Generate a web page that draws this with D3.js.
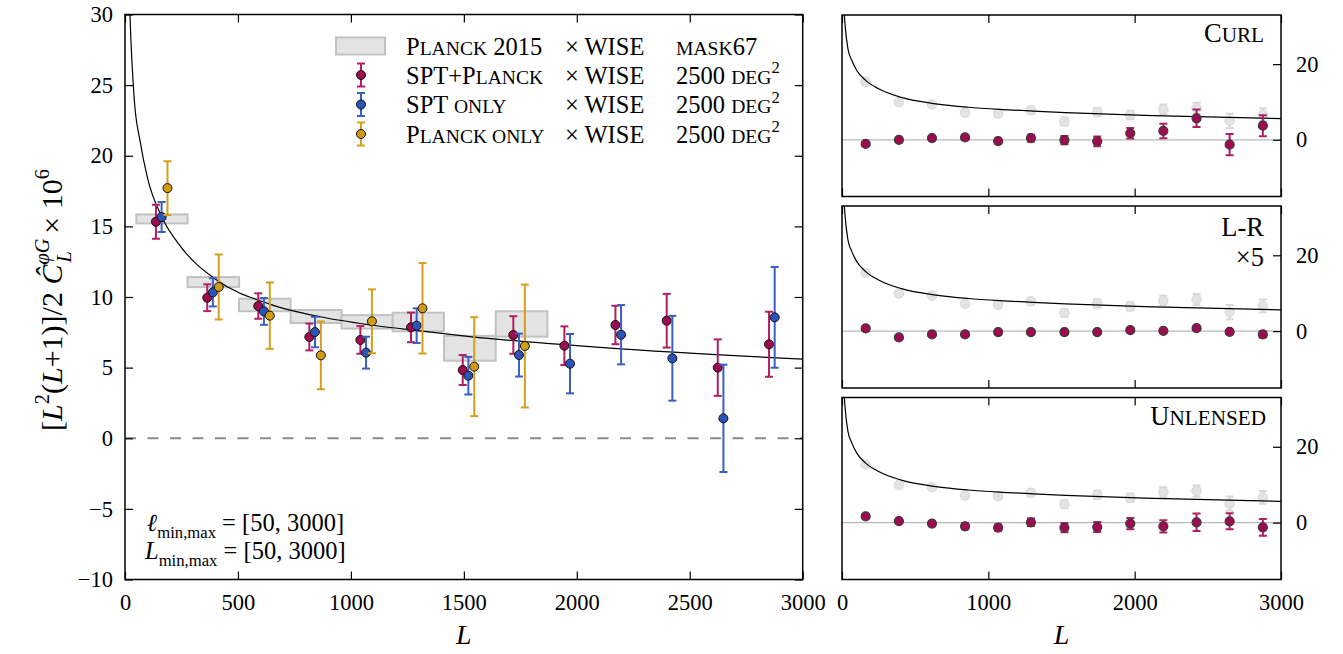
<!DOCTYPE html>
<html><head><meta charset="utf-8">
<script src="https://cdn.jsdelivr.net/npm/d3@7"></script>
<style>
body{margin:0;background:#fff}
svg{display:block}
text{font-family:"Liberation Serif","DejaVu Serif",serif;fill:#000}
</style>
</head><body>
<svg id="c" width="1343" height="654"></svg>
<script>
// ---------------- data ----------------
const binL = [162, 389, 615, 841, 1067, 1291, 1520, 1744, 1970, 2196, 2423, 2649, 2876];
const sptPlanckV = [15.33, 9.95, 9.36, 7.17, 6.96, 7.85, 4.83, 7.31, 6.55, 8.02, 8.32, 5.0, 6.65];
const sptPlanckE = [1.2, 0.95, 0.9, 0.95, 0.98, 1.05, 1.06, 1.33, 1.37, 1.36, 1.9, 2.0, 2.3];
const sptOnlyV = [15.66, 10.33, 8.98, 7.52, 6.06, 7.97, 4.43, 5.89, 5.28, 7.33, 5.66, 1.41, 8.56];
const sptOnlyE = [1.06, 1.0, 0.95, 1.08, 1.13, 1.23, 1.33, 1.52, 2.1, 2.1, 3.0, 3.8, 3.57];
const planckOnlyV = [17.71, 10.71, 8.68, 5.87, 8.28, 9.2, 5.07, 6.53];
const planckOnlyE = [1.9, 2.3, 2.35, 2.4, 2.26, 3.2, 3.5, 4.35];
const planck2015Edges = [50, 277, 505, 733, 959, 1185, 1412, 1641, 1870];
const planck2015Lo = [15.21, 10.7, 8.99, 8.16, 7.76, 7.57, 5.49, 7.19];
const planck2015Hi = [15.85, 11.41, 9.88, 9.08, 8.72, 8.89, 7.25, 8.99];
const theoryL = [10, 15, 22, 41, 66, 100, 162, 250, 406, 641, 863, 1099, 1306, 1527, 2132, 3000];
const theoryV = [40, 34, 30, 24, 21.1, 18.4, 15.7, 13.5, 11.2, 9.5, 8.6, 8.0, 7.6, 7.2, 6.4, 5.6];
const refGrayE = [0.5, 0.6, 0.6, 0.8, 0.8, 0.9, 1.0, 1.1, 1.1, 1.3, 1.5, 1.9, 1.7];
const curlV = [-1.1, 0, 0.44, 0.62, -0.34, 0.44, -0.08, -0.41, 1.73, 2.33, 5.68, -1.29, 3.72];
const curlE = [0.4, 0.5, 0.5, 0.6, 0.6, 0.9, 1.1, 1.3, 1.4, 1.9, 2.3, 2.8, 2.8];
const lrV = [0.7, -1.66, -0.87, -0.87, -0.26, -0.26, -0.26, -0.26, 0.26, 0.08, 0.79, -0.18, -0.87];
const lrE = [0.4, 0.4, 0.4, 0.4, 0.4, 0.4, 0.4, 0.4, 0.4, 0.4, 0.4, 0.5, 0.8];
const unlensedV = [1.67, 0.42, -0.26, -0.98, -1.32, 0.08, -1.32, -1.16, -0.26, -0.98, 0.08, 0.34, -1.24];
const unlensedE = [0.5, 0.5, 0.6, 0.8, 0.8, 1.0, 1.2, 1.3, 1.5, 1.6, 2.3, 2.1, 2.2];
const leftXTicks = [0, 500, 1000, 1500, 2000, 2500, 3000];
const leftYTicks = [-10, -5, 0, 5, 10, 15, 20, 25, 30];
const rightXTicks = [0, 1000, 2000, 3000];
const rightYTicks = [0, 20];

// ---------------- styles ----------------
const COL = {crimson: "#9e0b50", crimsonBar: "#b01f62", blue: "#2c53b8", blueBar: "#3a5fc0", gold: "#d19a14", goldBar: "#d49f1c"};
const FS = 22.5;     // tick labels
const LFS = 24.5;    // legend / annotations
const TFS = 26.5;    // panel titles
const svg = d3.select("#c");

// ---------------- left panel ----------------
const L = {x0: 125, x1: 802.7, y0: 14.5, y1: 579.5};
const xL = d3.scaleLinear().domain([0, 3000]).range([L.x0, L.x1]);
const yL = d3.scaleLinear().domain([-10, 30]).range([L.y1, L.y0]);

svg.append("clipPath").attr("id", "clipL").append("rect")
  .attr("x", L.x0).attr("y", L.y0).attr("width", L.x1 - L.x0).attr("height", L.y1 - L.y0);
const gL = svg.append("g").attr("clip-path", "url(#clipL)");

gL.selectAll("rect.box").data(planck2015Lo).join("rect").attr("class", "box")
  .attr("x", (d, i) => xL(planck2015Edges[i]))
  .attr("width", (d, i) => xL(planck2015Edges[i + 1]) - xL(planck2015Edges[i]))
  .attr("y", (d, i) => yL(planck2015Hi[i]))
  .attr("height", (d, i) => yL(d) - yL(planck2015Hi[i]))
  .attr("fill", "#e3e3e3").attr("stroke", "#c2c2c2").attr("stroke-width", 2);

gL.append("line").attr("x1", xL(0)).attr("x2", xL(3000)).attr("y1", yL(0)).attr("y2", yL(0))
  .attr("stroke", "#8a8a8a").attr("stroke-width", 2).attr("stroke-dasharray", "11,11.5");

const theory = theoryL.map((l, i) => [l, theoryV[i]]);
const lineL = d3.line().x(d => xL(d[0])).y(d => yL(d[1])).curve(d3.curveMonotoneX);
gL.append("path").attr("d", lineL(theory)).attr("fill", "none").attr("stroke", "#000").attr("stroke-width", 1.2);

function errSeries(g, xs, ys, es, xScale, yScale, opts) {
  const data = ys.map((v, i) => ({x: xs[i], v, e: es[i]}));
  const cap = opts.cap;
  const eg = g.append("g");
  eg.selectAll("line.v").data(data).join("line")
    .attr("x1", d => xScale(d.x)).attr("x2", d => xScale(d.x))
    .attr("y1", d => yScale(d.v - d.e)).attr("y2", d => yScale(d.v + d.e))
    .attr("stroke", opts.bar).attr("stroke-width", opts.bw);
  ["lo", "hi"].forEach(k => {
    eg.selectAll("line." + k).data(data).join("line")
      .attr("x1", d => xScale(d.x) - cap).attr("x2", d => xScale(d.x) + cap)
      .attr("y1", d => yScale(k === "lo" ? d.v - d.e : d.v + d.e))
      .attr("y2", d => yScale(k === "lo" ? d.v - d.e : d.v + d.e))
      .attr("stroke", opts.bar).attr("stroke-width", opts.bw);
  });
  eg.selectAll("circle").data(data).join("circle")
    .attr("cx", d => xScale(d.x)).attr("cy", d => yScale(d.v)).attr("r", opts.r)
    .attr("fill", opts.fill).attr("stroke", opts.stroke).attr("stroke-width", opts.sw);
}
const off = 25;
errSeries(gL, binL.map(l => l - off), sptPlanckV, sptPlanckE, xL, yL,
  {bar: COL.crimsonBar, fill: COL.crimson, stroke: "#111", sw: 1, r: 4.5, bw: 2, cap: 4});
errSeries(gL, binL, sptOnlyV, sptOnlyE, xL, yL,
  {bar: COL.blueBar, fill: COL.blue, stroke: "#111", sw: 1, r: 4.5, bw: 2, cap: 4});
errSeries(gL, binL.slice(0, planckOnlyV.length).map(l => l + off + 1), planckOnlyV, planckOnlyE, xL, yL,
  {bar: COL.goldBar, fill: COL.gold, stroke: "#111", sw: 1, r: 4.5, bw: 2, cap: 4});

function styleAxis(g) {
  g.select(".domain").remove();
  g.selectAll("line").attr("stroke", "#000").attr("stroke-width", 1.2);
  g.attr("font-family", "Liberation Serif, DejaVu Serif, serif").attr("font-size", FS);
  g.selectAll("text").attr("fill", "#000");
}
svg.append("g").attr("transform", `translate(0,${L.y1})`)
  .call(d3.axisBottom(xL).tickValues(leftXTicks).tickSize(-8).tickPadding(15).tickFormat(d3.format("d"))).call(styleAxis);
svg.append("g").attr("transform", `translate(0,${L.y0})`)
  .call(d3.axisTop(xL).tickValues(leftXTicks).tickSize(-8).tickFormat("")).call(styleAxis);
svg.append("g").attr("transform", `translate(${L.x0},0)`)
  .call(d3.axisLeft(yL).tickValues(leftYTicks).tickSize(-8).tickPadding(12)).call(styleAxis);
svg.append("g").attr("transform", `translate(${L.x1},0)`)
  .call(d3.axisRight(yL).tickValues(leftYTicks).tickSize(-8).tickFormat("")).call(styleAxis);
svg.append("rect").attr("x", L.x0).attr("y", L.y0).attr("width", L.x1 - L.x0).attr("height", L.y1 - L.y0)
  .attr("fill", "none").attr("stroke", "#000").attr("stroke-width", 1.5);

function rich(t, parts, size) {
  parts.forEach(p => {
    const ts = t.append("tspan").text(p.t);
    if (p.sc) ts.attr("font-size", size * 0.8);
    if (p.it) ts.attr("font-style", "italic");
    if (p.sup) ts.attr("font-size", size * 0.68).attr("dy", -size * 0.42);
    if (p.unsup) ts.attr("dy", size * 0.42);
    if (p.sub) ts.attr("font-size", size * 0.68).attr("dy", size * 0.3);
    if (p.unsub) ts.attr("dy", -size * 0.3);
    if (p.dx) ts.attr("dx", p.dx);
  });
  return t;
}

// legend
const legRows = [
  {y: 46, c1: [{t: "P"}, {t: "LANCK", sc: 1}, {t: " 2015"}], c3: [{t: "MASK", sc: 1}, {t: "67"}]},
  {y: 75, c1: [{t: "SPT+P"}, {t: "LANCK", sc: 1}], c3: [{t: "2500 "}, {t: "DEG", sc: 1}, {t: "2", sup: 1}], col: "crimson"},
  {y: 104.5, c1: [{t: "SPT "}, {t: "ONLY", sc: 1}], c3: [{t: "2500 "}, {t: "DEG", sc: 1}, {t: "2", sup: 1}], col: "blue"},
  {y: 134, c1: [{t: "P"}, {t: "LANCK ONLY", sc: 1}], c3: [{t: "2500 "}, {t: "DEG", sc: 1}, {t: "2", sup: 1}], col: "gold"}
];
const leg = svg.append("g");
legRows.forEach((r, i) => {
  if (i === 0) {
    leg.append("rect").attr("x", 336).attr("y", r.y - 8.5).attr("width", 49).attr("height", 17)
      .attr("fill", "#e3e3e3").attr("stroke", "#c2c2c2").attr("stroke-width", 2);
  } else {
    const bar = COL[r.col + "Bar"], fill = COL[r.col];
    leg.append("line").attr("x1", 361).attr("x2", 361).attr("y1", r.y - 11.5).attr("y2", r.y + 11.5).attr("stroke", bar).attr("stroke-width", 2);
    [-11.5, 11.5].forEach(dy => leg.append("line").attr("x1", 357).attr("x2", 365).attr("y1", r.y + dy).attr("y2", r.y + dy).attr("stroke", bar).attr("stroke-width", 2));
    leg.append("circle").attr("cx", 361).attr("cy", r.y).attr("r", 4.5).attr("fill", fill).attr("stroke", "#111");
  }
  rich(leg.append("text").attr("x", 406).attr("y", r.y + 8.5).attr("font-size", LFS), r.c1, LFS);
  rich(leg.append("text").attr("x", 565).attr("y", r.y + 8.5).attr("font-size", LFS), [{t: "× WISE"}], LFS);
  rich(leg.append("text").attr("x", 676).attr("y", r.y + 8.5).attr("font-size", LFS), r.c3, LFS);
});

// annotations
rich(svg.append("text").attr("x", 147).attr("y", 531).attr("font-size", LFS),
  [{t: "ℓ", it: 1}, {t: "min,max", sub: 1}, {t: " = [50, 3000]", unsub: 1}], LFS);
rich(svg.append("text").attr("x", 145).attr("y", 559).attr("font-size", LFS),
  [{t: "L", it: 1}, {t: "min,max", sub: 1}, {t: " = [50, 3000]", unsub: 1}], LFS);

// axis labels
svg.append("text").attr("x", (L.x0 + L.x1) / 2).attr("y", 644).attr("text-anchor", "middle")
  .attr("font-size", 28).attr("font-style", "italic").text("L");
const YS = 30;
const yl = svg.append("text").attr("transform", "translate(62,300) rotate(-90)").attr("text-anchor", "middle").attr("font-size", YS);
rich(yl, [
  {t: "["}, {t: "L", it: 1}, {t: "2", sup: 1}, {t: "(", unsup: 1}, {t: "L", it: 1}, {t: "+1)]/2 "},
  {t: "Ĉ", it: 1}, {t: "φG", it: 1, sup: 1}, {t: "L", it: 1, dx: -24, sub: 1},
  {t: "  × 10", dx: 10}, {t: "6", sup: 1}
], YS);
(function () {
  const ts = yl.selectAll("tspan").nodes();
  d3.select(ts[8]).attr("dy", YS * 0.42 + YS * 0.3);
  d3.select(ts[9]).attr("dy", -YS * 0.3);
})();

// ---------------- right panels ----------------
const R = {x0: 842, x1: 1281};
const panels = [
  {y0: 15, y1: 196.5, v: curlV, e: curlE},
  {y0: 206, y1: 388, v: lrV, e: lrE},
  {y0: 397.5, y1: 579.5, v: unlensedV, e: unlensedE}
];
const xR = d3.scaleLinear().domain([0, 3000]).range([R.x0, R.x1]);
panels.forEach((p, pi) => {
  const yR = d3.scaleLinear().domain([-15, 33]).range([p.y1, p.y0]);
  const cid = "clipR" + pi;
  svg.append("clipPath").attr("id", cid).append("rect")
    .attr("x", R.x0).attr("y", p.y0).attr("width", R.x1 - R.x0).attr("height", p.y1 - p.y0);
  const g = svg.append("g").attr("clip-path", `url(#${cid})`);
  g.append("line").attr("x1", R.x0).attr("x2", R.x1).attr("y1", yR(0)).attr("y2", yR(0))
    .attr("stroke", "#b8b8b8").attr("stroke-width", 1.2);
  errSeries(g, binL, sptPlanckV, refGrayE, xR, yR,
    {bar: "#d8d8d8", fill: "#e3e3e3", stroke: "#dadada", sw: 1, r: 4.8, bw: 2, cap: 4});
  const lineR = d3.line().x(d => xR(d[0])).y(d => yR(d[1])).curve(d3.curveMonotoneX);
  g.append("path").attr("d", lineR(theory)).attr("fill", "none").attr("stroke", "#000").attr("stroke-width", 1.2);
  errSeries(g, binL, p.v, p.e, xR, yR,
    {bar: COL.crimsonBar, fill: COL.crimson, stroke: "#3a3a3a", sw: 1.2, r: 4.5, bw: 2, cap: 4});

  svg.append("g").attr("transform", `translate(0,${p.y1})`)
    .call(d3.axisBottom(xR).tickValues(rightXTicks).tickSize(-8).tickPadding(15)
      .tickFormat(pi === 2 ? d3.format("d") : "")).call(styleAxis);
  svg.append("g").attr("transform", `translate(0,${p.y0})`)
    .call(d3.axisTop(xR).tickValues(rightXTicks).tickSize(-8).tickFormat("")).call(styleAxis);
  svg.append("g").attr("transform", `translate(${R.x1},0)`)
    .call(d3.axisRight(yR).tickValues(rightYTicks).tickSize(-8).tickPadding(15)).call(styleAxis);
  svg.append("rect").attr("x", R.x0).attr("y", p.y0).attr("width", R.x1 - R.x0).attr("height", p.y1 - p.y0)
    .attr("fill", "none").attr("stroke", "#000").attr("stroke-width", 1.5);
});
rich(svg.append("text").attr("x", 1264).attr("y", 42).attr("text-anchor", "end").attr("font-size", TFS),
  [{t: "C"}, {t: "URL", sc: 1}], TFS);
svg.append("text").attr("x", 1264).attr("y", 236).attr("text-anchor", "end").attr("font-size", TFS).text("L-R");
svg.append("text").attr("x", 1264).attr("y", 266).attr("text-anchor", "end").attr("font-size", TFS).text("×5");
rich(svg.append("text").attr("x", 1266).attr("y", 425).attr("text-anchor", "end").attr("font-size", TFS),
  [{t: "U"}, {t: "NLENSED", sc: 1}], TFS);
svg.append("text").attr("x", (R.x0 + R.x1) / 2).attr("y", 644).attr("text-anchor", "middle")
  .attr("font-size", 28).attr("font-style", "italic").text("L");
</script>
</body></html>
